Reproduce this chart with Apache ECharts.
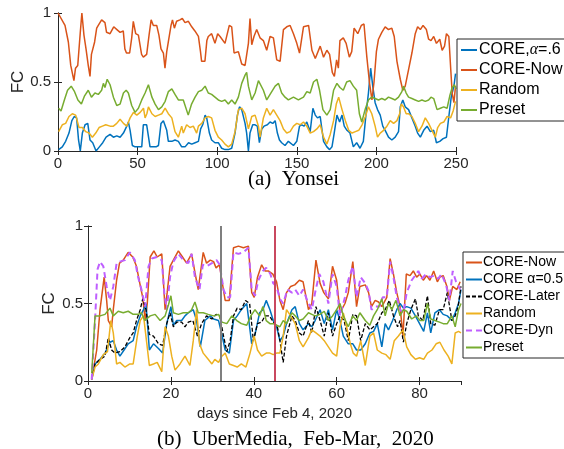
<!DOCTYPE html>
<html>
<head>
<meta charset="utf-8">
<script src="https://cdn.jsdelivr.net/npm/echarts@6/dist/echarts.min.js"></script>
<style>
html, body { margin: 0; padding: 0; background: #fff; }
#main { width: 564px; height: 449px; }
</style>
</head>
<body>
<div id="main"></div>
<script>
// (a) Yonsei, x = time slot, y = FC
var topCore = [[0.4,0.01],[2.7,0.03],[4.8,0.07],[6.9,0.13],[8.7,0.22],[10.2,0.25],[11.7,0.24],[12.9,0.08],[14,0.0],[15.3,0.13],[17,0.19],[18.7,0.20],[20.1,0.08],[21.8,0.06],[23.9,0.0],[26,0.03],[28.1,0.06],[30.2,0.10],[32.7,0.12],[34.8,0.10],[36.9,0.11],[39,0.10],[41.1,0.13],[43.2,0.18],[44.2,0.21],[45.3,0.15],[46.7,0.04],[48.4,0.03],[50.5,0.03],[52.6,0.03],[53.6,0.19],[55.7,0.19],[56.8,0.18],[57.8,0.03],[59.5,0.03],[61.6,0.03],[63.1,0.04],[64.7,0.20],[66.2,0.22],[68.3,0.15],[69.3,0.07],[71.5,0.07],[73.5,0.08],[75.6,0.07],[77.7,0.03],[79.8,0.03],[82,0.06],[84,0.05],[86.1,0.06],[88.2,0.07],[89.6,0.16],[90.9,0.19],[92.4,0.26],[93.4,0.24],[95.1,0.13],[96.5,0.08],[98.6,0.06],[100.7,0.06],[102.8,0.02],[104.9,0.01],[107,0.01],[109.1,0.02],[111.2,0.13],[112.7,0.26],[114,0.32],[115.4,0.30],[117.5,0.20],[118.5,0.13],[119.6,0.0],[120.6,0.13],[122.3,0.19],[123.8,0.19],[125.2,0.18],[126.5,0.06],[128,0.16],[129.4,0.18],[131.5,0.19],[133.2,0.21],[134.9,0.20],[136.4,0.22],[137.8,0.13],[139.1,0.08],[140.5,0.06],[142.6,0.04],[144.7,0.07],[147.9,0.04],[150,0.07],[151.7,0.18],[153.1,0.19],[154.6,0.18],[156.3,0.21],[158.4,0.14],[160.1,0.31],[161.6,0.26],[163,0.24],[164.7,0.25],[166.8,0.07],[168.9,0.03],[170.6,0.01],[172.1,0.03],[173.5,0.13],[175.2,0.26],[176.9,0.21],[178.4,0.26],[179.8,0.18],[181.5,0.15],[183.4,0.13],[185.5,0.03],[187.6,0.06],[189.7,0.02],[191.8,0.07],[193.5,0.27],[195,0.42],[196.4,0.60],[197.7,0.47],[199.2,0.35],[200.7,0.30],[202.4,0.26],[204,0.18],[205.5,0.15],[207.6,0.10],[209.7,0.08],[211.8,0.10],[213.9,0.14],[215,0.32],[216.6,0.37],[218.1,0.32],[220.2,0.30],[222.3,0.24],[224.4,0.18],[225.9,0.13],[227.6,0.10],[229.7,0.15],[231.8,0.18],[233.9,0.14],[236,0.15],[237.7,0.06],[239.8,0.07],[241.9,0.09],[244,0.10],[245.5,0.25],[247,0.39],[248.7,0.47],[249.7,0.56]];
var topNow = [[0,1.0],[4.4,0.91],[6.5,0.79],[8,0.62],[10,0.51],[11,0.6],[12.4,0.62],[14,0.86],[15,1.0],[16.3,0.84],[17.6,0.74],[19,0.62],[20.1,0.54],[21,0.7],[23,0.79],[24.3,0.89],[25.3,0.91],[27.4,0.95],[29.5,0.93],[30.5,0.86],[32.7,0.85],[35,0.9],[37,0.88],[39,0.86],[41,0.87],[42,0.74],[43,0.71],[45,0.71],[46.3,0.82],[47.3,0.94],[48.8,0.85],[50.5,0.84],[52.5,0.70],[53.6,0.68],[55.7,0.70],[57.2,0.84],[58.5,0.95],[59.9,0.91],[62,0.91],[63.4,0.84],[64.7,0.74],[66.2,0.71],[67.2,0.60],[68.3,0.72],[69.3,0.79],[71,0.91],[71.9,0.95],[73.1,0.89],[74.5,0.94],[76.6,0.95],[78.1,0.96],[79.8,0.93],[81.9,0.94],[84,0.90],[86,0.87],[88.2,0.83],[89.5,0.72],[90.2,0.65],[92.3,0.65],[93.5,0.80],[94.4,0.83],[96.5,0.85],[98.6,0.78],[100.3,0.85],[101.8,0.83],[104.9,0.78],[107.6,0.91],[109.1,0.90],[110.6,0.71],[113.3,0.72],[115.4,0.63],[117.5,0.62],[119.6,0.78],[120.6,0.96],[121.7,0.77],[123.1,0.83],[124.8,0.88],[126.9,0.82],[129,0.80],[131.1,0.73],[133.2,0.83],[135.3,0.82],[137.4,0.66],[139.5,0.65],[141.6,0.88],[143.7,0.90],[145.8,0.91],[147.9,0.85],[150,0.78],[151.7,0.71],[154.2,0.90],[157.4,0.91],[159.5,0.73],[161.6,0.67],[164.7,0.76],[166.8,0.68],[168.9,0.73],[170.6,0.70],[172.3,0.57],[173.6,0.54],[175,0.66],[176.1,0.60],[177.1,0.80],[179.2,0.82],[181,0.78],[183,0.68],[184.5,0.72],[186,0.89],[188.3,0.85],[190.5,0.91],[192.2,0.92],[194,0.68],[195.6,0.50],[197.2,0.37],[198.5,0.50],[200,0.72],[201.3,0.81],[203.4,0.86],[205.5,0.90],[207.6,0.88],[209.7,0.89],[211.2,0.83],[212.9,0.65],[215,0.52],[216.6,0.44],[218.1,0.47],[220.2,0.59],[222.3,0.71],[224.4,0.85],[225.9,0.90],[227.6,0.88],[229.3,0.91],[231.4,0.88],[232.8,0.81],[234.3,0.80],[236,0.83],[237.7,0.78],[239.8,0.81],[241.3,0.73],[242.8,0.76],[244,0.85],[245.5,0.83],[246.6,0.61],[247.6,0.42],[248.7,0.35],[249.7,0.47]];
var topRandom = [[0.4,0.14],[2.7,0.19],[4.8,0.20],[6.9,0.25],[9,0.27],[11.1,0.26],[13.2,0.17],[15.3,0.17],[17.4,0.14],[19.5,0.13],[21.6,0.10],[23.7,0.13],[25.8,0.17],[27.9,0.18],[30,0.19],[32.7,0.18],[34.8,0.18],[36.9,0.20],[39,0.23],[41.1,0.20],[43.2,0.18],[45.3,0.24],[47.4,0.28],[49.5,0.26],[51.6,0.28],[53.7,0.31],[54.7,0.24],[55.8,0.27],[56.8,0.32],[59,0.27],[61,0.25],[63.1,0.26],[65.2,0.27],[67.3,0.31],[69.3,0.27],[71.5,0.24],[73.5,0.14],[75.6,0.10],[77.7,0.18],[78.7,0.13],[80.8,0.19],[82.9,0.17],[85,0.18],[87.1,0.13],[88.2,0.18],[90.3,0.20],[92.4,0.24],[94.4,0.25],[96.5,0.24],[98.6,0.15],[100.7,0.10],[102.8,0.08],[104.9,0.05],[107,0.03],[109.1,0.05],[111.2,0.14],[113.3,0.30],[115.4,0.31],[117.5,0.27],[119.6,0.16],[121.7,0.25],[123.8,0.26],[125.9,0.18],[126.9,0.10],[129,0.24],[131.1,0.31],[133.2,0.26],[135.3,0.30],[137.4,0.26],[139.5,0.22],[141.6,0.16],[143.7,0.13],[145.8,0.14],[147.9,0.18],[150,0.20],[152.1,0.19],[154.2,0.21],[156.3,0.18],[158.4,0.13],[160.5,0.14],[162.6,0.16],[164.7,0.19],[166.8,0.10],[168.9,0.05],[171,0.12],[173.1,0.22],[174.8,0.34],[176.3,0.39],[178.4,0.30],[180.5,0.22],[182.6,0.15],[184.7,0.13],[186.8,0.14],[188.9,0.15],[191,0.19],[193.1,0.25],[195,0.32],[197.1,0.27],[199.2,0.18],[200.7,0.10],[202.4,0.13],[204.5,0.15],[206.6,0.18],[208.7,0.22],[210.8,0.20],[212.9,0.22],[214.6,0.27],[215.6,0.34],[217,0.32],[218.7,0.27],[220.2,0.27],[222.3,0.25],[224.4,0.20],[226.5,0.14],[228.6,0.18],[230.7,0.24],[232.8,0.20],[234.9,0.15],[237,0.10],[238.5,0.17],[240.2,0.20],[242.3,0.21],[244.4,0.25],[246.6,0.24],[248.2,0.29],[249.7,0.36]];
var topPreset = [[0.4,0.31],[1.9,0.29],[4,0.37],[6,0.44],[8.3,0.47],[10.4,0.43],[12.5,0.37],[14.7,0.34],[16.7,0.40],[19,0.44],[21,0.39],[23.2,0.42],[25.3,0.41],[27.4,0.44],[28.5,0.49],[29.5,0.46],[30.9,0.52],[32.7,0.48],[34.8,0.39],[36.9,0.33],[39,0.34],[41.1,0.42],[42.8,0.44],[44.2,0.42],[46.3,0.33],[48.4,0.28],[50.5,0.31],[52.6,0.37],[54.7,0.42],[56.8,0.48],[59,0.39],[61,0.34],[63.1,0.30],[65.2,0.32],[67.3,0.36],[69.3,0.43],[71.5,0.45],[73.5,0.41],[75.6,0.37],[78.7,0.37],[81.8,0.26],[83.9,0.34],[86.1,0.39],[88.2,0.43],[90.3,0.44],[92.4,0.47],[94.4,0.42],[96.5,0.41],[98.6,0.39],[100.7,0.37],[102.8,0.36],[104.9,0.37],[107,0.34],[109.1,0.37],[111.2,0.34],[113.3,0.39],[115.4,0.49],[117.5,0.55],[118.5,0.57],[119.6,0.47],[121.7,0.37],[123.8,0.42],[125.9,0.51],[126.9,0.52],[129,0.44],[131.1,0.37],[133.2,0.41],[136.4,0.47],[138.5,0.49],[140.5,0.42],[142.6,0.39],[144.7,0.37],[147.9,0.39],[151,0.37],[154.2,0.39],[156.3,0.43],[158.4,0.42],[160.5,0.50],[162.6,0.52],[164.3,0.44],[166.4,0.30],[168.9,0.26],[171,0.30],[173.1,0.44],[175.2,0.49],[177.1,0.46],[179.2,0.44],[181.3,0.50],[183.4,0.51],[185.5,0.47],[187.6,0.44],[189.3,0.27],[190.8,0.21],[192.9,0.30],[195,0.37],[197.1,0.39],[199.2,0.38],[201.3,0.37],[203.4,0.38],[205.5,0.37],[207.6,0.39],[209.7,0.38],[211.8,0.37],[213.9,0.39],[216,0.43],[217,0.47],[218.7,0.42],[220.2,0.39],[222.3,0.38],[224.4,0.37],[226.5,0.36],[228.6,0.37],[230.7,0.36],[232.8,0.37],[234.3,0.39],[236,0.38],[238.1,0.30],[240.2,0.31],[242.3,0.32],[244.4,0.31],[246.1,0.40],[247.6,0.46],[249,0.48],[250,0.45]];

// (b) UberMedia, x = days since Feb 4, 2020
var botNow = [[0.9,0.01],[2.1,0.2],[2.9,0.46],[3.9,0.67],[4.5,0.52],[4.9,0.39],[5.7,0.35],[6.1,0.46],[6.9,0.65],[7.6,0.76],[8.5,0.78],[9.7,0.83],[10.8,0.80],[11.7,0.74],[12.5,0.63],[13.2,0.54],[13.8,0.39],[14.3,0.50],[15,0.80],[15.9,0.84],[16.7,0.80],[17.8,0.82],[18.6,0.46],[19.1,0.57],[19.8,0.74],[20.6,0.78],[21.8,0.84],[22.8,0.80],[23.8,0.76],[25,0.82],[25.8,0.70],[26.6,0.59],[27.8,0.83],[28.6,0.76],[29.5,0.78],[30.3,0.77],[30.9,0.73],[31.7,0.75],[32.3,0.65],[33.1,0.52],[34.1,0.52],[35.1,0.86],[36.3,0.87],[37.5,0.86],[38.7,0.87],[39.5,0.57],[40.1,0.54],[40.9,0.67],[41.9,0.75],[42.7,0.71],[43.5,0.71],[44.6,0.69],[45.5,0.64],[46.3,0.52],[47.1,0.46],[47.9,0.57],[48.9,0.61],[49.9,0.62],[51,0.65],[51.9,0.64],[53.2,0.46],[54,0.50],[55,0.78],[56,0.63],[56.9,0.57],[58,0.53],[59,0.74],[60,0.65],[60.8,0.44],[62,0.50],[62.8,0.57],[63.9,0.77],[64.8,0.48],[65.6,0.61],[66.9,0.62],[67.7,0.57],[68.4,0.48],[69.3,0.52],[70.1,0.51],[70.9,0.48],[72.1,0.54],[72.9,0.79],[73.7,0.69],[74.5,0.57],[75.3,0.48],[76,0.29],[76.8,0.69],[77.7,0.68],[78.5,0.71],[79.3,0.67],[80.1,0.69],[80.9,0.65],[81.7,0.68],[82.5,0.65],[83.4,0.71],[84.3,0.64],[84.9,0.67],[85.7,0.68],[86.6,0.61],[87.2,0.52],[88,0.61],[89,0.59],[89.8,0.64]];
var botCore = [[0.9,0.01],[1.7,0.11],[2.9,0.14],[4.1,0.18],[5.3,0.25],[6.1,0.26],[6.9,0.20],[7.7,0.16],[8.7,0.20],[9.7,0.24],[10.9,0.26],[11.7,0.35],[12.6,0.42],[13.4,0.46],[14,0.50],[14.8,0.20],[15.8,0.24],[17,0.21],[18,0.18],[19,0.37],[20,0.48],[20.6,0.36],[21.4,0.39],[22.6,0.39],[23.4,0.42],[24.2,0.44],[25.4,0.46],[26.2,0.39],[27.1,0.22],[28.2,0.39],[29.5,0.42],[30.3,0.40],[31.5,0.39],[32.3,0.30],[33.1,0.20],[34.1,0.18],[35.1,0.39],[36,0.42],[37,0.46],[38.3,0.50],[39.5,0.24],[40.3,0.30],[41.4,0.44],[42.2,0.46],[43,0.52],[43.9,0.46],[44.7,0.39],[45.5,0.35],[46.3,0.26],[47.1,0.29],[47.9,0.37],[49.2,0.46],[50,0.48],[51,0.37],[51.9,0.33],[53.2,0.37],[54,0.35],[54.8,0.39],[56,0.46],[57,0.37],[58,0.46],[59,0.33],[60,0.46],[60.8,0.39],[61.6,0.29],[62.8,0.24],[63.9,0.24],[64.8,0.20],[65.8,0.20],[66.9,0.24],[68,0.31],[68.9,0.32],[69.8,0.37],[70.9,0.22],[71.7,0.37],[72.5,0.33],[73.5,0.39],[74.5,0.46],[75.3,0.50],[76.1,0.47],[76.9,0.48],[77.9,0.47],[79,0.42],[80,0.37],[81,0.32],[81.9,0.44],[82.7,0.31],[83.7,0.44],[84.8,0.46],[85.7,0.43],[86.7,0.42],[87.8,0.39],[88.6,0.44],[89.4,0.50],[90,0.59]];
var botLater = [[0.9,0.01],[1.7,0.11],[2.9,0.14],[4.1,0.16],[4.9,0.28],[5.7,0.20],[6.5,0.18],[7.7,0.19],[8.9,0.22],[10.1,0.28],[10.9,0.31],[11.7,0.39],[12.6,0.46],[13.2,0.53],[14,0.46],[14.8,0.30],[15.8,0.29],[17,0.24],[18,0.23],[19,0.37],[19.8,0.44],[20.6,0.35],[21.4,0.38],[22.6,0.38],[23.4,0.35],[24.2,0.38],[25.3,0.39],[26.4,0.29],[27.4,0.37],[28.6,0.42],[29.9,0.40],[30.9,0.43],[31.8,0.42],[32.7,0.29],[33.5,0.19],[34.3,0.26],[35.1,0.42],[36,0.47],[37,0.46],[38,0.52],[39,0.50],[39.9,0.26],[40.9,0.37],[41.9,0.38],[42.7,0.42],[43.8,0.42],[44.7,0.38],[45.7,0.35],[46.3,0.26],[47.1,0.12],[47.9,0.29],[49.2,0.42],[50,0.39],[51,0.31],[51.9,0.29],[53.2,0.39],[54,0.31],[55,0.48],[56,0.39],[57,0.29],[58,0.44],[59,0.29],[60,0.37],[60.8,0.42],[61.8,0.39],[62.8,0.26],[63.9,0.43],[64.8,0.42],[65.8,0.26],[66.9,0.37],[68,0.33],[68.9,0.35],[69.8,0.37],[70.9,0.44],[71.7,0.46],[72.7,0.52],[73.7,0.42],[74.7,0.35],[75.3,0.39],[76.1,0.25],[76.9,0.37],[77.9,0.46],[79,0.53],[79.7,0.42],[80.8,0.39],[81.9,0.55],[82.7,0.37],[83.7,0.36],[84.8,0.46],[85.7,0.46],[86.7,0.57],[87.8,0.39],[88.6,0.42],[89.3,0.48],[90,0.61]];
var botRandom = [[0.9,0.01],[1.7,0.09],[2.5,0.11],[3.7,0.17],[4.7,0.19],[5.5,0.39],[6.1,0.31],[6.9,0.11],[7.7,0.12],[8.9,0.09],[10.1,0.11],[10.9,0.11],[11.9,0.29],[12.6,0.39],[13.4,0.42],[14.2,0.24],[14.8,0.10],[15.8,0.11],[16.7,0.12],[17.8,0.06],[18.6,0.35],[19.4,0.29],[20.2,0.16],[21,0.07],[22.2,0.11],[23.4,0.16],[24.6,0.10],[25.4,0.26],[26.2,0.46],[26.9,0.24],[27.8,0.18],[29,0.14],[29.9,0.11],[30.6,0.14],[31.5,0.12],[32.3,0.16],[33.1,0.18],[34.1,0.11],[35.1,0.10],[36,0.09],[37,0.11],[38.1,0.09],[39.1,0.18],[40.1,0.29],[40.9,0.20],[41.9,0.16],[43,0.18],[43.9,0.18],[44.7,0.17],[45.5,0.18],[46.3,0.18],[47.1,0.29],[47.9,0.46],[48.9,0.42],[50,0.37],[51,0.26],[51.9,0.22],[53.2,0.28],[54,0.33],[55,0.31],[56,0.29],[57,0.26],[58,0.22],[59,0.18],[60,0.16],[60.8,0.35],[61.6,0.44],[62.4,0.35],[63.3,0.24],[64,0.18],[64.8,0.16],[65.8,0.26],[66.9,0.10],[68,0.29],[68.9,0.31],[69.8,0.20],[70.9,0.18],[71.9,0.17],[72.9,0.14],[73.9,0.26],[74.9,0.29],[76,0.33],[76.9,0.22],[77.9,0.17],[79,0.14],[80,0.15],[81,0.14],[81.9,0.18],[83,0.20],[84,0.24],[84.9,0.25],[85.9,0.20],[86.9,0.16],[87.8,0.11],[88.6,0.31],[89.4,0.32],[90,0.31]];
var botDyn = [[0.9,0.01],[1.7,0.39],[2.3,0.72],[2.9,0.77],[3.7,0.74],[4.5,0.61],[5.3,0.52],[6.1,0.61],[6.9,0.76],[7.7,0.77],[8.9,0.78],[10.1,0.83],[11.3,0.78],[12.1,0.67],[12.9,0.59],[13.8,0.48],[14.6,0.74],[15.4,0.79],[16.6,0.80],[17.8,0.78],[18.4,0.57],[19,0.46],[19.8,0.67],[20.6,0.77],[21.8,0.82],[23,0.78],[24.2,0.76],[25,0.82],[25.8,0.67],[26.9,0.59],[27.7,0.75],[28.6,0.74],[29.9,0.76],[31,0.78],[31.8,0.75],[32.7,0.59],[33.5,0.54],[34.3,0.54],[35.1,0.83],[36.3,0.82],[37.5,0.83],[38.7,0.86],[39.5,0.59],[40.3,0.55],[41.1,0.65],[42.2,0.71],[43,0.73],[44,0.69],[44.7,0.63],[45.5,0.61],[46.3,0.53],[47.1,0.50],[48.1,0.59],[49.2,0.57],[50,0.59],[51,0.55],[51.9,0.59],[52.9,0.52],[54,0.46],[54.8,0.57],[55.8,0.69],[56.8,0.64],[58,0.50],[59,0.69],[60,0.61],[60.8,0.42],[62,0.54],[62.8,0.65],[63.9,0.74],[64.8,0.54],[65.8,0.67],[66.9,0.63],[67.7,0.58],[68.4,0.46],[69.3,0.48],[70.3,0.48],[71.1,0.54],[72.1,0.54],[72.9,0.77],[73.7,0.67],[74.5,0.54],[75.3,0.46],[76.1,0.44],[76.9,0.57],[78.1,0.65],[79.2,0.69],[79.7,0.71],[80.5,0.66],[81.6,0.69],[82.5,0.67],[83.5,0.68],[84.5,0.66],[85.3,0.69],[86.4,0.62],[87.2,0.52],[88,0.71],[88.8,0.64],[89.8,0.59]];
var botPreset = [[0.9,0.05],[1.7,0.42],[2.9,0.42],[4.1,0.43],[5.3,0.47],[6.1,0.42],[7.3,0.45],[8.5,0.44],[9.7,0.45],[10.9,0.43],[12.1,0.43],[12.9,0.44],[13.7,0.39],[15,0.42],[16.2,0.43],[17.4,0.39],[18.6,0.42],[19.4,0.49],[20,0.55],[20.6,0.44],[21.8,0.43],[23,0.44],[24.2,0.44],[25,0.46],[25.8,0.51],[26.6,0.44],[27.8,0.44],[29,0.43],[30.3,0.42],[31.5,0.43],[32.3,0.38],[33.5,0.37],[34.7,0.42],[35.9,0.39],[37,0.37],[38.3,0.36],[39.3,0.42],[40.3,0.46],[41.4,0.42],[42.2,0.48],[43,0.39],[43.9,0.37],[44.7,0.37],[45.5,0.36],[46.3,0.35],[47.1,0.39],[47.9,0.37],[49.2,0.44],[50,0.42],[51,0.39],[51.9,0.40],[53.2,0.44],[54,0.43],[54.8,0.42],[56,0.43],[57,0.45],[58,0.39],[59,0.42],[60,0.46],[60.8,0.50],[61.6,0.42],[62.8,0.35],[63.9,0.42],[64.8,0.39],[65.6,0.44],[66.9,0.39],[68,0.36],[68.9,0.42],[69.8,0.46],[70.9,0.53],[71.7,0.42],[72.5,0.50],[73.3,0.46],[74.3,0.52],[75.3,0.42],[76.1,0.46],[76.9,0.45],[78.1,0.40],[79.2,0.42],[80.1,0.39],[81,0.39],[81.9,0.50],[82.7,0.40],[83.7,0.39],[84.8,0.38],[85.7,0.37],[86.7,0.37],[87.8,0.42],[88.6,0.35],[89.4,0.46],[90,0.50]];

var markDays = [32, 45];

var BLUE = '#0072BD', ORANGE = '#D95319', YELLOW = '#EDB120', GREEN = '#77AC30', PURPLE = '#BF5FFF';
var FONT = 'Liberation Sans';
var AX = '#262626';

function xAxisPair(grid, max, interval, showName) {
	var ticks = { show : true, inside : true, length : 4, lineStyle : { color : AX } };
	return [ {
		type : 'value', gridIndex : grid, min : 0, max : max, interval : interval,
		axisLine : { lineStyle : { color : AX } }, axisTick : ticks,
		splitLine : { show : false },
		axisLabel : { color : AX, fontSize : 15, fontFamily : FONT, margin : 5, showMaxLabel : max % interval === 0 },
		name : showName ? 'days since Feb 4, 2020' : '',
		nameLocation : 'middle', nameGap : 25, nameMoveOverlap : false,
		nameTextStyle : { color : AX, fontSize : 15, fontFamily : FONT }
	}, {
		type : 'value', gridIndex : grid, position : 'top', min : 0, max : max, interval : interval,
		axisLine : { lineStyle : { color : AX } }, axisTick : ticks,
		splitLine : { show : false }, axisLabel : { show : false }
	} ];
}

function yAxisPair(grid, margin, nameGap) {
	var ticks = { show : true, inside : true, length : 4, lineStyle : { color : AX } };
	return [ {
		type : 'value', gridIndex : grid, min : 0, max : 1, interval : 0.5,
		axisLine : { show : true, lineStyle : { color : AX } }, axisTick : ticks,
		splitLine : { show : false },
		axisLabel : { color : AX, fontSize : 15, fontFamily : FONT, margin : margin },
		name : 'FC', nameLocation : 'middle', nameGap : nameGap, nameRotate : 90, nameMoveOverlap : false,
		nameTextStyle : { color : AX, fontSize : 17, fontFamily : FONT }
	}, {
		type : 'value', gridIndex : grid, position : 'right', min : 0, max : 1, interval : 0.5,
		axisLine : { show : true, lineStyle : { color : AX } }, axisTick : ticks,
		splitLine : { show : false }, axisLabel : { show : false }
	} ];
}

function line(name, data, xi, yi, color, extra) {
	var s = {
		name : name, type : 'line', data : data, xAxisIndex : xi, yAxisIndex : yi,
		symbol : 'none', showSymbol : false, animation : false,
		lineStyle : { color : color, width : 1.5 },
		itemStyle : { color : color }
	};
	if (extra) {
		for (var k in extra) s.lineStyle[k] = extra[k];
	}
	return s;
}

var chart = echarts.init(document.getElementById('main'), null, { renderer : 'canvas' });

var series = [
	line('CORE,α=.6', topCore, 0, 0, BLUE),
	line('CORE-Now', topNow, 0, 0, ORANGE),
	line('Random', topRandom, 0, 0, YELLOW),
	line('Preset', topPreset, 0, 0, GREEN),
	line('CORE-Now', botNow, 2, 2, ORANGE),
	line('CORE α=0.5', botCore, 2, 2, BLUE),
	line('CORE-Later', botLater, 2, 2, '#000000', { type : [4, 2], width : 1.3 }),
	line('Random', botRandom, 2, 2, YELLOW),
	line('CORE-Dyn', botDyn, 2, 2, PURPLE, { type : [6, 4], width : 2 }),
	line('Preset', botPreset, 2, 2, GREEN)
];

// vertical markers in (b)
series[5].markLine = {
	silent : true, symbol : 'none', animation : false,
	label : { show : false },
	data : [
		{ xAxis : markDays[0], lineStyle : { color : '#7F7F7F', width : 2, type : 'solid' } },
		{ xAxis : markDays[1], lineStyle : { color : '#C9485F', width : 2, type : 'solid' } }
	]
};

var option = {
	backgroundColor : '#fff',
	animation : false,
	grid : [
		{ left : 58, top : 13, width : 398, height : 138, containLabel : false, outerBoundsMode : 'none' },
		{ left : 88, top : 226, width : 373, height : 155, containLabel : false, outerBoundsMode : 'none' }
	],
	xAxis : xAxisPair(0, 250, 50, false).concat(xAxisPair(1, 90, 20, true)),
	yAxis : yAxisPair(0, 7, 31).concat(yAxisPair(1, 5, 30)),
	legend : [ {
		orient : 'vertical', left : 457, top : 39,
		data : [ 'CORE,α=.6', 'CORE-Now', 'Random', 'Preset' ],
		itemWidth : 16, itemHeight : 10, itemGap : 2,
		padding : [ 2, 8, 2, 3 ],
		borderColor : AX, borderWidth : 1, borderRadius : 0,
		backgroundColor : '#fff',
		selectedMode : false,
		itemStyle : { opacity : 0 },
		formatter : function(n) {
			return n === 'CORE,α=.6' ? '{n|CORE,}{i|α}{n|=.6}' : n;
		},
		textStyle : { color : '#000', fontSize : 16, fontFamily : FONT, lineHeight : 18, padding : [0, 0, 0, -3],
			rich : { n : { fontSize : 16, fontFamily : FONT }, i : { fontSize : 16, fontStyle : 'italic', fontFamily : 'Liberation Serif' } } }
	}, {
		orient : 'vertical', left : 463, top : 252,
		data : [ 'CORE-Now', 'CORE α=0.5', 'CORE-Later', 'Random', 'CORE-Dyn', 'Preset' ],
		itemWidth : 16, itemHeight : 10, itemGap : 2,
		padding : [ 3, 4, 3, 2 ],
		borderColor : AX, borderWidth : 1, borderRadius : 0,
		backgroundColor : '#fff',
		selectedMode : false,
		itemStyle : { opacity : 0 },
		textStyle : { color : '#000', fontSize : 14, fontFamily : FONT, lineHeight : 15, padding : [0, 0, 0, -4] }
	} ],
	graphic : [ {
		type : 'text', left : 248, top : 169,
		style : { text : '(a)  Yonsei', font : '21px "Liberation Serif"', fill : '#000' }
	}, {
		type : 'text', left : 157, top : 429,
		style : { text : '(b)  UberMedia,  Feb-Mar,  2020', font : '21px "Liberation Serif"', fill : '#000' }
	} ],
	series : series
};

chart.setOption(option);
</script>
</body>
</html>
